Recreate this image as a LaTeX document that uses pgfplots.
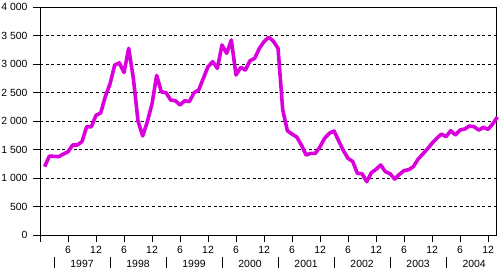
\documentclass[border=0pt]{standalone}
\usepackage{fontspec}
\setmainfont{Liberation Sans}
\usepackage{pgfplots}
\pgfplotsset{compat=1.18}
\definecolor{mag}{RGB}{218,0,222}
\tikzset{
  yearsep/.style={black, line width=0.9pt},
  yearlab/.style={font=\fontsize{10.4}{12}\selectfont, yshift=-29pt},
}
\begin{document}
\begin{tikzpicture}[x=1pt,y=1pt]
\begin{axis}[
  scale only axis, width=456pt, height=228pt,
  xmin=0, xmax=97.7, ymin=0, ymax=4000,
  clip=false,
  axis line style={black, line width=0.9pt},
  tick style={black, line width=0.9pt},
  tick align=outside, major tick length=7pt,
  xtick pos=lower, ytick pos=left,
  xtick={0,6,...,96},
  xticklabels={,6,12,6,12,6,12,6,12,6,12,6,12,6,12,6,12},
  ytick={0,500,...,4000},
  yticklabels={0,500,1 000,1 500,2 000,2 500,3 000,3 500,4 000},
  ymajorgrids,
  grid style={black, line width=0.7pt, dash pattern=on 3pt off 2.6pt},
  ticklabel style={font=\fontsize{10.4}{12}\selectfont},
  xticklabel style={yshift=-1pt},
  yticklabel style={xshift=-2pt},
]
\addplot[mag, line width=3.6pt, line join=round] coordinates {
(1,1200)(2,1385)(3,1380)(4,1375)(5,1420)(6,1460)(7,1580)(8,1579)(9,1640)(10,1900)
(11,1900)(12,2100)(13,2140)(14,2430)(15,2650)(16,2980)(17,3020)(18,2850)(19,3275)(20,2750)
(21,2000)(22,1737)(23,1988)(24,2300)(25,2800)(26,2510)(27,2497)(28,2368)(29,2356)(30,2281)
(31,2356)(32,2340)(33,2497)(34,2544)(35,2750)(36,2953)(37,3041)(38,2924)(39,3333)(40,3187)
(41,3421)(42,2807)(43,2942)(44,2895)(45,3058)(46,3099)(47,3275)(48,3392)(49,3470)(50,3400)
(51,3275)(52,2200)(53,1830)(54,1770)(55,1720)(56,1580)(57,1404)(58,1433)(59,1433)(60,1550)
(61,1700)(62,1784)(63,1825)(64,1650)(65,1480)(66,1345)(67,1290)(68,1082)(69,1075)(70,936)
(71,1094)(72,1152)(73,1228)(74,1111)(75,1075)(76,982)(77,1064)(78,1130)(79,1145)(80,1200)
(81,1330)(82,1420)(83,1510)(84,1610)(85,1696)(86,1770)(87,1725)(88,1830)(89,1754)(90,1842)
(91,1860)(92,1912)(93,1900)(94,1842)(95,1889)(96,1854)(97,1950)(98,2070)
};
\draw[yearsep] (axis cs:3,0) ++(0,-21.7pt) -- ++(0,-11.3pt);
\draw[yearsep] (axis cs:15,0) ++(0,-21.7pt) -- ++(0,-11.3pt);
\draw[yearsep] (axis cs:27,0) ++(0,-21.7pt) -- ++(0,-11.3pt);
\draw[yearsep] (axis cs:39,0) ++(0,-21.7pt) -- ++(0,-11.3pt);
\draw[yearsep] (axis cs:51,0) ++(0,-21.7pt) -- ++(0,-11.3pt);
\draw[yearsep] (axis cs:63,0) ++(0,-21.7pt) -- ++(0,-11.3pt);
\draw[yearsep] (axis cs:75,0) ++(0,-21.7pt) -- ++(0,-11.3pt);
\draw[yearsep] (axis cs:87,0) ++(0,-21.7pt) -- ++(0,-11.3pt);
\node[yearlab] at (axis cs:9,0) {1997};
\node[yearlab] at (axis cs:21,0) {1998};
\node[yearlab] at (axis cs:33,0) {1999};
\node[yearlab] at (axis cs:45,0) {2000};
\node[yearlab] at (axis cs:57,0) {2001};
\node[yearlab] at (axis cs:69,0) {2002};
\node[yearlab] at (axis cs:81,0) {2003};
\node[yearlab] at (axis cs:93,0) {2004};
\end{axis}
\pgfresetboundingbox
\path[use as bounding box] (-40pt,-34pt) rectangle (460pt,235pt);
\end{tikzpicture}
\end{document}
